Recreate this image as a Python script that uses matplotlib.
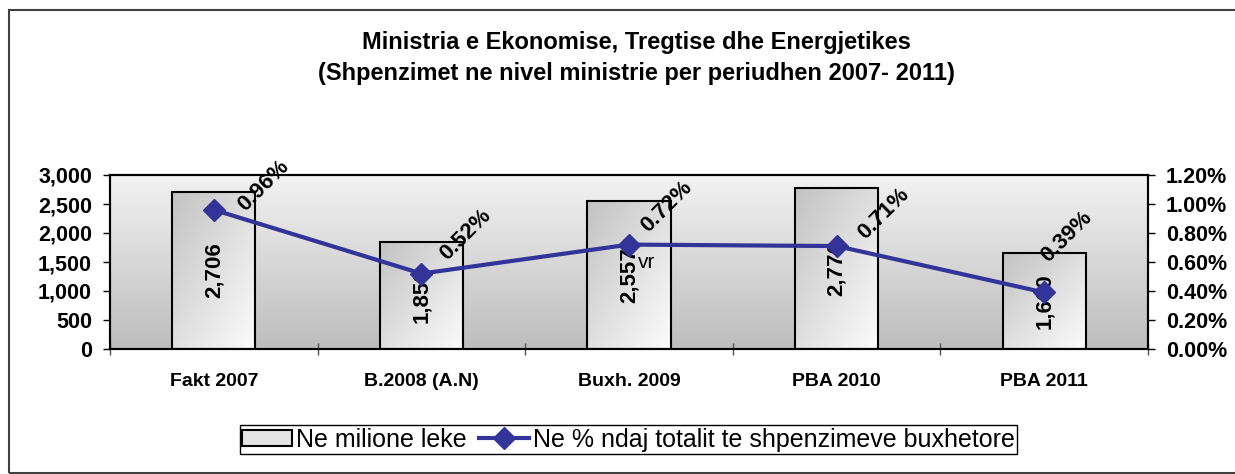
"""Bar + line chart: ministry spending 2007-2011 (amount and share of budget)."""

from __future__ import annotations

import matplotlib

matplotlib.use("Agg")
import matplotlib.pyplot as plt
import numpy as np
from matplotlib.colors import LinearSegmentedColormap
from matplotlib.lines import Line2D
from matplotlib.patches import Patch, Rectangle
from matplotlib.ticker import FuncFormatter, MultipleLocator


CATEGORIES = ["Fakt 2007", "B.2008 (A.N)", "Buxh. 2009", "PBA 2010", "PBA 2011"]
SPENDING = [2706, 1850, 2557, 2776, 1660]  # ne milione leke
SHARE_PCT = [0.96, 0.52, 0.72, 0.71, 0.39]  # ne % ndaj totalit
TITLE = "Ministria e Ekonomise, Tregtise dhe Energjetikes\n(Shpenzimet ne nivel ministrie per periudhen 2007- 2011)"
BAR_LABEL = "Ne milione leke"
LINE_LABEL = "Ne % ndaj totalit te shpenzimeve buxhetore"

# label placement (pixels from the marker), tuned by eye
PCT_OFFSETS = [(20, -6), (14, 9), (8, 8), (17, 3), (-7, 26)]

LINE_COLOR = "#333399"
FONT = "Liberation Sans"


def _gradient(ax, extent, cmap, diagonal=False, transform=None, zorder=0):
    n = 256
    if diagonal:
        xx, yy = np.meshgrid(np.linspace(0, 1, n), np.linspace(0, 1, n))
        img = (xx + yy) / 2.0
    else:
        img = np.linspace(0, 1, n).reshape(-1, 1)
    kw = {"transform": transform} if transform is not None else {}
    ax.imshow(img, extent=extent, cmap=cmap, origin="upper", aspect="auto",
              interpolation="bicubic", zorder=zorder, **kw)


def main() -> None:
    plt.rcParams["font.family"] = [FONT, "DejaVu Sans"]
    fig = plt.figure(figsize=(12.35, 4.74), dpi=100)

    # outer chart frame (runs off the right edge like the original)
    fig.patches.append(Rectangle((9 / 1235, 1 / 474), 1.0, 463 / 474, transform=fig.transFigure,
                                 fill=False, edgecolor="#404040", linewidth=1.5))

    fig.text(0.515, 0.878, TITLE, ha="center", va="center", fontsize=17,
             fontweight="bold", linespacing=1.45)

    ax = fig.add_axes([110 / 1235, 125 / 474, 1038 / 1235, 174 / 474])
    ax.patch.set_visible(False)
    x = np.arange(len(CATEGORIES))

    bg = LinearSegmentedColormap.from_list("bg", ["#f2f2f2", "#bdbdbd"])
    _gradient(ax, (0, 1, 0, 1), bg, transform=ax.transAxes, zorder=0)

    bar_cmap = LinearSegmentedColormap.from_list("bar", ["#c2c2c2", "#fcfcfc"])
    width = 0.4
    bars = ax.bar(x, SPENDING, width=width, facecolor="none", edgecolor="black",
                  linewidth=1.5, zorder=3)
    for rect, value in zip(bars, SPENDING):
        x0 = rect.get_x()
        _gradient(ax, (x0, x0 + width, 0, value), bar_cmap, diagonal=True, zorder=2)
        ax.text(rect.get_x() + width / 2, value / 2, f"{value:,}", rotation=90,
                ha="center", va="center", fontsize=16, fontweight="bold", zorder=4)

    ax.set_xlim(-0.5, len(CATEGORIES) - 0.5)
    ax.set_ylim(0, 3000)
    ax.yaxis.set_major_locator(MultipleLocator(500))
    ax.yaxis.set_major_formatter(FuncFormatter(lambda v, _: f"{v:,.0f}"))
    ax.set_xticks(np.arange(-0.5, len(CATEGORIES), 1.0))
    ax.set_xticklabels([])
    ax.set_xticks(x, minor=True)
    ax.set_xticklabels(CATEGORIES, minor=True, fontsize=14, fontweight="bold")
    ax.tick_params(axis="x", which="major", direction="inout", length=9, width=1, color="#555555")
    ax.tick_params(axis="x", which="minor", length=0, pad=17)
    ax.tick_params(axis="y", direction="out", length=5, width=1, pad=8, labelsize=15.5)
    for label in ax.get_yticklabels():
        label.set_fontweight("bold")
    for spine in ax.spines.values():
        spine.set_linewidth(1.5)
        spine.set_color("black")

    ax2 = ax.twinx()
    ax2.plot(x, SHARE_PCT, color=LINE_COLOR, linewidth=3, marker="D", markersize=11,
             zorder=5)
    ax2.set_ylim(0, 1.2)
    ax2.yaxis.set_major_locator(MultipleLocator(0.2))
    ax2.yaxis.set_major_formatter(FuncFormatter(lambda v, _: f"{v:.2f}%"))
    ax2.tick_params(axis="y", direction="out", length=5, width=1, pad=8, labelsize=15.5)
    for label in ax2.get_yticklabels():
        label.set_fontweight("bold")
    for spine in ax2.spines.values():
        spine.set_linewidth(1.5)

    for xi, pct, (dx, dy) in zip(x, SHARE_PCT, PCT_OFFSETS):
        ax2.annotate(f"{pct:.2f}%", (xi, pct), xytext=(dx, dy), textcoords="offset pixels",
                     rotation=45, ha="left", va="bottom", fontsize=16, fontweight="bold",
                     zorder=6)
    # stray text that sits in the original chart
    ax2.annotate("vr", (x[2], SHARE_PCT[2]), xytext=(18, -18), textcoords="offset pixels",
                 ha="center", va="center", fontsize=15, zorder=6)

    handles = [
        Patch(facecolor="#e4e4e4", edgecolor="black", linewidth=1.5),
        Line2D([], [], color=LINE_COLOR, linewidth=3, marker="D", markersize=11),
    ]
    fig.legend(handles, [BAR_LABEL, LINE_LABEL], loc="center", bbox_to_anchor=(0.509, 0.072),
               ncol=2, frameon=True, fancybox=False, edgecolor="black", framealpha=1,
               prop={"size": 18}, handlelength=2.0, handleheight=0.6,
               handletextpad=0.15, columnspacing=0.5, borderpad=0.1)

    fig.savefig("out.png", dpi=100)
    plt.close(fig)


if __name__ == "__main__":
    main()
